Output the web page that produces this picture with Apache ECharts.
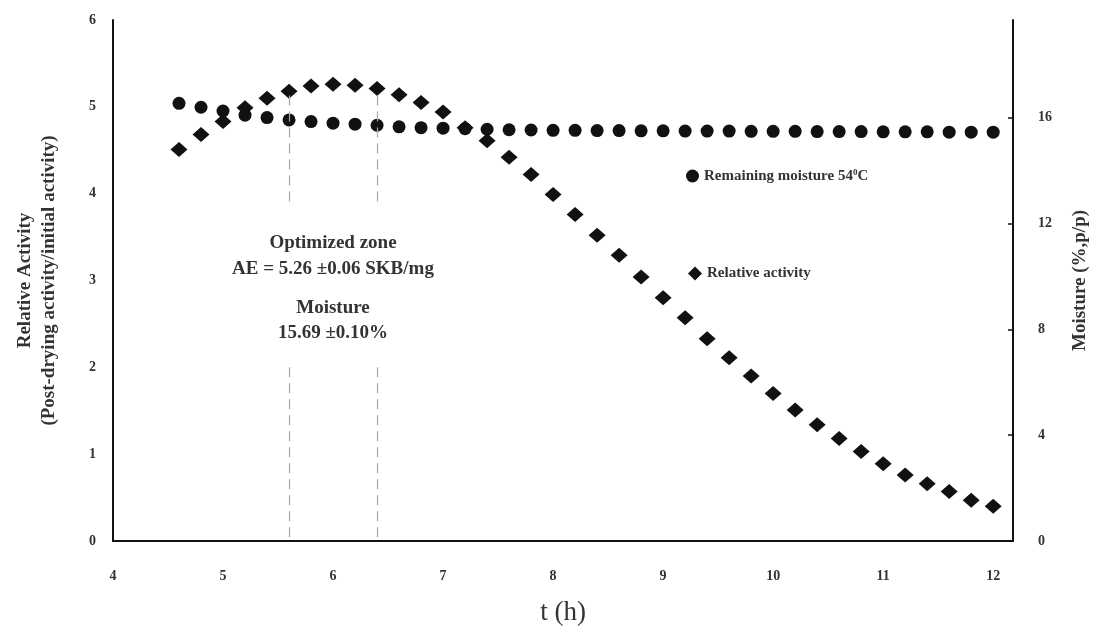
<!DOCTYPE html>
<html>
<head>
<meta charset="utf-8">
<script src="https://cdn.jsdelivr.net/npm/echarts@6/dist/echarts.min.js"></script>
<style>
  html, body { margin: 0; padding: 0; background: #fff; }
  #chart { width: 1094px; height: 632px; }
</style>
</head>
<body>
<div id="chart"></div>
<script>
// time (h)
const timeH = [4.6, 4.8, 5.0, 5.2, 5.4, 5.6, 5.8, 6.0, 6.2, 6.4, 6.6, 6.8, 7.0, 7.2, 7.4, 7.6, 7.8,
  8.0, 8.2, 8.4, 8.6, 8.8, 9.0, 9.2, 9.4, 9.6, 9.8, 10.0, 10.2, 10.4, 10.6, 10.8, 11.0, 11.2,
  11.4, 11.6, 11.8, 12.0];
// relative activity (left axis)
const relActivity = [4.51, 4.68, 4.83, 4.99, 5.10, 5.18, 5.24, 5.26, 5.25, 5.21, 5.14, 5.05, 4.94,
  4.76, 4.61, 4.42, 4.22, 3.99, 3.76, 3.52, 3.29, 3.04, 2.80, 2.57, 2.33, 2.11, 1.90, 1.70, 1.51,
  1.34, 1.18, 1.03, 0.89, 0.76, 0.66, 0.57, 0.47, 0.40];
// remaining moisture %, right axis
const moisture = [16.55, 16.40, 16.26, 16.10, 16.01, 15.92, 15.86, 15.80, 15.76, 15.72, 15.66, 15.63,
  15.61, 15.59, 15.57, 15.55, 15.54, 15.53, 15.53, 15.52, 15.52, 15.51, 15.51, 15.50, 15.50, 15.50,
  15.49, 15.49, 15.49, 15.48, 15.48, 15.48, 15.47, 15.47, 15.47, 15.46, 15.46, 15.46];
// optimized zone boundaries
const zoneEdges = [5.6, 6.4];

const serif = '"Liberation Serif", "DejaVu Serif", serif';
const ink = '#111';

const myChart = echarts.init(document.getElementById('chart'));

const dashSegs = [];
zoneEdges.forEach((x) => {
  dashSegs.push([{ coord: [x, 5.13] }, { coord: [x, 3.88] }]);
  dashSegs.push([{ coord: [x, 2.0] }, { coord: [x, 0] }]);
});

let option = {
  backgroundColor: '#fff',
  animation: false,
  grid: { left: 113, right: 81, top: 20, bottom: 91, outerBoundsMode: 'none', containLabel: false },
  legend: [
    {
      data: [{ name: 'moist', icon: 'circle' }],
      left: 681, top: 163, itemWidth: 13, itemHeight: 13, itemGap: 7,
      formatter: () => '{a|Remaining moisture 54}{s|0}{a|C}',
      textStyle: {
        rich: {
          a: { fontFamily: serif, fontWeight: 'bold', fontSize: 15, color: '#333' },
          s: { fontFamily: serif, fontWeight: 'bold', fontSize: 9, color: '#333', verticalAlign: 'top', padding: [0, 0, 7, 0] },
        },
      },
    },
    {
      data: [{ name: 'act', icon: 'diamond' }],
      left: 683, top: 261, itemWidth: 14, itemHeight: 14, itemGap: 4,
      formatter: () => 'Relative activity',
      textStyle: { fontFamily: serif, fontWeight: 'bold', fontSize: 15, color: '#333' },
    },
  ],
  graphic: [
    {
      type: 'text',
      style: {
        x: 333, y: 230, text: 'Optimized zone\nAE = 5.26 ±0.06 SKB/mg', align: 'center',
        font: 'bold 19px ' + serif, fill: '#333', lineHeight: 26,
      },
    },
    {
      type: 'text',
      style: {
        x: 333, y: 296, text: 'Moisture\n15.69 ±0.10%', align: 'center',
        font: 'bold 19px ' + serif, fill: '#333', lineHeight: 25,
      },
    },
  ],
  xAxis: {
    type: 'value', min: 4, max: 12.18, interval: 1,
    name: 't (h)', nameLocation: 'middle', nameGap: 58,
    nameTextStyle: { fontFamily: serif, fontSize: 27, color: '#333' },
    axisLine: { lineStyle: { color: ink, width: 2 } },
    axisTick: { show: false },
    splitLine: { show: false },
    axisLabel: {
      margin: 28, showMaxLabel: false,
      fontFamily: serif, fontWeight: 'bold', fontSize: 14, color: '#333',
    },
  },
  yAxis: [
    {
      type: 'value', min: 0, max: 6, interval: 1,
      name: 'Relative Activity\n(Post-drying activity/initial activity)',
      nameLocation: 'middle', nameGap: 52, nameRotate: 90,
      nameTextStyle: { fontFamily: serif, fontWeight: 'bold', fontSize: 19, color: '#333', lineHeight: 24 },
      axisLine: { show: true, lineStyle: { color: ink, width: 2 } },
      axisTick: { show: false },
      splitLine: { show: false },
      axisLabel: { margin: 17, fontFamily: serif, fontWeight: 'bold', fontSize: 14, color: '#333' },
    },
    {
      type: 'value', min: 0, max: 19.7, interval: 4, position: 'right',
      name: 'Moisture (%,p/p)',
      nameLocation: 'middle', nameGap: 58, nameRotate: 90,
      nameTextStyle: { fontFamily: serif, fontWeight: 'bold', fontSize: 19, color: '#333' },
      axisLine: { show: true, lineStyle: { color: ink, width: 2 } },
      axisTick: { show: true, inside: true, length: 5, lineStyle: { color: ink, width: 1.5 } },
      splitLine: { show: false },
      axisLabel: {
        margin: 25, showMaxLabel: false,
        fontFamily: serif, fontWeight: 'bold', fontSize: 14, color: '#333',
      },
    },
  ],
  series: [
    {
      name: 'act', type: 'scatter', yAxisIndex: 0,
      symbol: 'diamond', symbolSize: [17, 15],
      itemStyle: { color: ink, opacity: 1 },
      data: timeH.map((t, i) => [t, relActivity[i]]),
      markLine: {
        silent: true, symbol: 'none', label: { show: false },
        lineStyle: { color: '#aaa', type: [10, 6], width: 1.2 },
        data: dashSegs,
      },
      z: 3,
    },
    {
      name: 'moist', type: 'scatter', yAxisIndex: 1,
      symbol: 'circle', symbolSize: 13,
      itemStyle: { color: ink, opacity: 1 },
      data: timeH.map((t, i) => [t, moisture[i]]),
      z: 4,
    },
  ],
};
option && myChart.setOption(option);
</script>
</body>
</html>
